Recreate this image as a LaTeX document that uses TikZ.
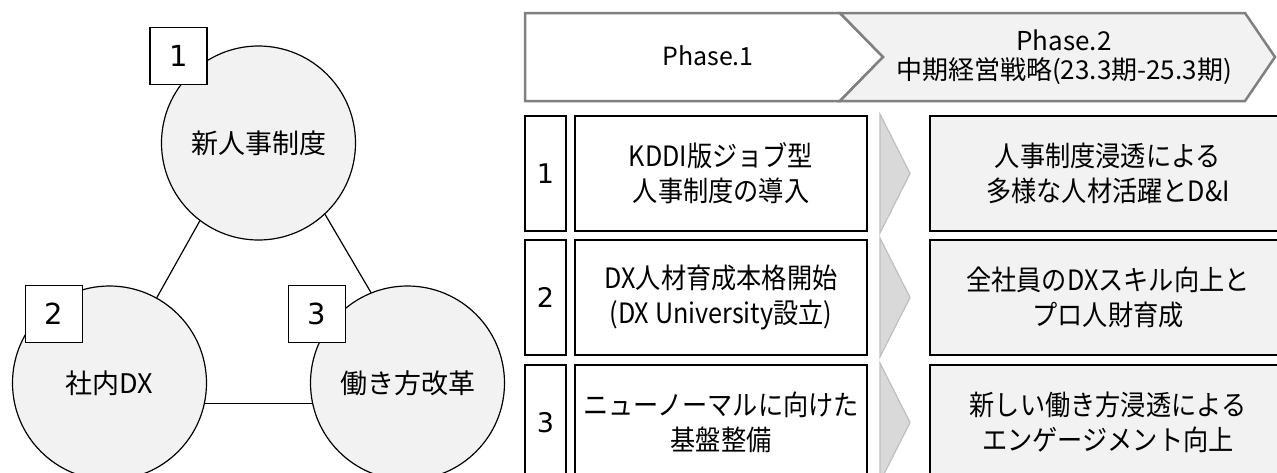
\documentclass[tikz,border=0pt]{standalone}
\usepackage{fontspec}
\setmainfont{Noto Sans CJK JP}
\newfontfamily\cellfont[FakeStretch=0.9]{Noto Sans CJK JP}
\newfontfamily\digitfont{DejaVu Sans}
\usepackage{tikz}
\definecolor{paleGray}{HTML}{F2F2F2}
\definecolor{chevGray}{HTML}{D9D9D9}
\definecolor{chevLine}{HTML}{BFBFBF}
\definecolor{headLine}{HTML}{808080}
\tikzset{
	topic/.style={circle,draw,line width=1.2pt,fill=paleGray,minimum size=194pt,inner sep=0pt,font=\fontsize{27}{32}\selectfont},
	tag/.style={draw,line width=1.2pt,fill=white,minimum size=57pt,inner sep=0pt,font=\digitfont\fontsize{29}{34}\selectfont},
	numcell/.style={draw,line width=1.2pt,minimum width=41pt,minimum height=115pt,inner sep=0pt,font=\digitfont\fontsize{27}{32}\selectfont},
	itemcell/.style={draw,line width=1.2pt,minimum width=292pt,minimum height=115pt,inner sep=0pt,align=center,font=\cellfont\fontsize{28}{35}\selectfont},
	goalcell/.style={itemcell,fill=paleGray,minimum width=356pt},
	chev/.style={fill=chevGray,draw=chevLine,line width=1.2pt},
	phase/.style={draw=headLine,line width=2.5pt,line join=miter}
}
\begin{document}
\begin{tikzpicture}[x=1pt,y=-1pt]
	\useasboundingbox (0,0) rectangle (1277,472);

	\node [topic] (c1) at (258.5,143) {新人事制度};
	\node [topic] (c2) at (109.5,383) {社内DX};
	\node [topic] (c3) at (407.5,383) {働き方改革};

	\draw [line width=1.2pt] (c1.233.5) -- (c2.61.4);
	\draw [line width=1.2pt] (c1.-47.7) -- (c3.112.6);
	\draw [line width=1.2pt] (c2.-12.5) -- (c3.192.5);

	\node [tag] (t1) at (178.5,56) {1};
	\node [tag] (t2) at (54,314) {2};
	\node [tag] (t3) at (317,314) {3};

	\draw [phase,fill=white] (525,13) -- (840,13) -- (883,57) -- (840,101) -- (525,101) -- cycle;
	\draw [phase,fill=paleGray] (840,13) -- (1245,13) -- (1275,57) -- (1245,101) -- (840,101) -- (883,57) -- cycle;
	\node [font=\fontsize{25}{29}\selectfont] (ph1) at (708,56) {Phase.1};
	\node [font=\fontsize{26}{29}\selectfont,align=center] (ph2) at (1064,57) {Phase.2\\中期経営戦略(23.3期-25.3期)};

	\node [numcell] (n1) at (545.5,173.5) {1};
	\node [itemcell] (i1) at (721,173.5) {KDDI版ジョブ型\\人事制度の導入};
	\draw [chev] (880,114) -- (910,173.5) -- (880,233) -- cycle;
	\node [goalcell] (g1) at (1108,173.5) {人事制度浸透による\\多様な人材活躍とD\&I};

	\node [numcell] (n2) at (545.5,297.5) {2};
	\node [itemcell] (i2) at (721,297.5) {DX人材育成本格開始\\(DX University設立)};
	\draw [chev] (880,238) -- (910,297.5) -- (880,357) -- cycle;
	\node [goalcell] (g2) at (1108,297.5) {全社員のDXスキル向上と\\プロ人財育成};

	\node [numcell] (n3) at (545.5,422.5) {3};
	\node [itemcell] (i3) at (721,422.5) {ニューノーマルに向けた\\基盤整備};
	\draw [chev] (880,363) -- (910,422.5) -- (880,482) -- cycle;
	\node [goalcell] (g3) at (1108,422.5) {新しい働き方浸透による\\エンゲージメント向上};
\end{tikzpicture}
\end{document}
